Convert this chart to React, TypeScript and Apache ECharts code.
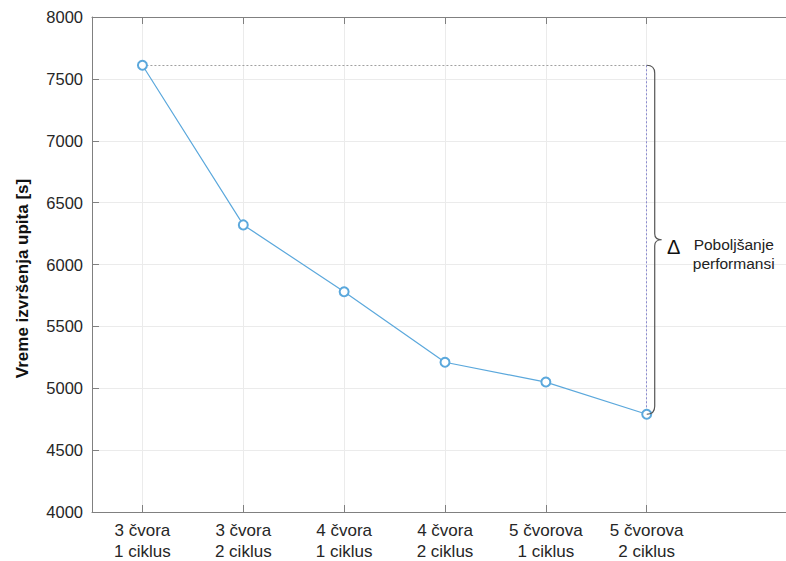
import React, { useEffect, useRef } from "react";
import * as echarts from "echarts";

const categoryLabels = [
  "3 čvora\n1 ciklus",
  "3 čvora\n2 ciklus",
  "4 čvora\n1 ciklus",
  "4 čvora\n2 ciklus",
  "5 čvorova\n1 ciklus",
  "5 čvorova\n2 ciklus",
];
const queryTimes = [7610, 6320, 5780, 5210, 5050, 4790];
const yTicks = { min: 4000, max: 8000, interval: 500 };
const yAxisTitle = "Vreme izvršenja upita [s]";
const deltaSymbol = "Δ";
const deltaLabel = "Poboljšanje\nperformansi";

// axis runs from 0.5 to 7.5 in half steps; categories sit on whole numbers
const SLOT_COUNT = 15;
const slotOf = (k: number) => 2 * k + 1;

const FONT = "'Liberation Sans', Arial, Helvetica, sans-serif";
const AXIS_COLOR = "#808080";

export default function App() {
  const ref = useRef<HTMLDivElement>(null);

  useEffect(() => {
    document.body.style.margin = "0";
    if (!ref.current) return;
    const chart = echarts.init(ref.current, null, { renderer: "svg" });

    const slots: string[] = Array(SLOT_COUNT).fill("");
    categoryLabels.forEach((l, k) => (slots[slotOf(k)] = l));
    const seriesData: (number | null)[] = Array(SLOT_COUNT).fill(null);
    queryTimes.forEach((v, k) => (seriesData[slotOf(k)] = v));

    const isCat = (i: number) => i % 2 === 1 && i <= slotOf(categoryLabels.length - 1);

    const firstSlot = slotOf(0);
    const lastSlot = slotOf(queryTimes.length - 1);
    const topVal = queryTimes[0];
    const botVal = queryTimes[queryTimes.length - 1];

    chart.setOption({
      animation: false,
      textStyle: { fontFamily: FONT },
      grid: {
        left: 92,
        right: 2,
        top: 17,
        bottom: 49,
        containLabel: false,
        outerBoundsMode: "none",
        show: false,
      },
      xAxis: [
        {
          type: "category",
          data: slots,
          boundaryGap: false,
          axisLine: { lineStyle: { color: AXIS_COLOR, width: 1 } },
          axisTick: {
            inside: true,
            length: 7,
            interval: (i: number) => isCat(i),
            lineStyle: { color: AXIS_COLOR },
          },
          axisLabel: {
            interval: (i: number) => isCat(i),
            color: "#262626",
            fontSize: 17,
            lineHeight: 21,
            margin: 8,
            fontFamily: FONT,
          },
          splitLine: {
            show: true,
            interval: (i: number) => isCat(i),
            lineStyle: { color: "#ebebeb", width: 1 },
          },
        },
        {
          type: "category",
          data: slots,
          position: "top",
          boundaryGap: false,
          axisLine: { show: true, lineStyle: { color: AXIS_COLOR, width: 1 } },
          axisTick: {
            show: true,
            inside: true,
            length: 7,
            interval: (i: number) => isCat(i),
            lineStyle: { color: AXIS_COLOR },
          },
          axisLabel: { show: false },
          splitLine: { show: false },
        },
      ],
      yAxis: {
        type: "value",
        min: yTicks.min,
        max: yTicks.max,
        interval: yTicks.interval,
        name: yAxisTitle,
        nameLocation: "middle",
        nameGap: 61,
        nameTextStyle: {
          fontSize: 17,
          fontWeight: "bold",
          color: "#111",
          fontFamily: FONT,
          padding: [0, 28, 0, 0],
        },
        axisLine: { show: true, lineStyle: { color: AXIS_COLOR, width: 1 } },
        axisTick: { show: true, inside: true, length: 7, lineStyle: { color: AXIS_COLOR } },
        axisLabel: {
          color: "#262626",
          fontSize: 16.5,
          margin: 9,
          fontFamily: FONT,
          formatter: (v: number) => String(v),
        },
        splitLine: { show: true, lineStyle: { color: "#ebebeb", width: 1 } },
      },
      series: [
        {
          type: "line",
          data: seriesData,
          connectNulls: true,
          symbol: "emptyCircle",
          symbolSize: 9,
          showSymbol: true,
          lineStyle: { color: "#5ba8dc", width: 1.2 },
          itemStyle: { color: "#5ba8dc", borderWidth: 1.2 },
          z: 5,
          markLine: {
            silent: true,
            symbol: ["none", "none"],
            label: { show: false },
            data: [
              [
                { coord: [firstSlot, topVal], lineStyle: { color: "#a0a0a0", type: [2, 2], width: 1 } },
                { coord: [lastSlot, topVal] },
              ],
              [
                { coord: [lastSlot, topVal], lineStyle: { color: "#8a8ad0", type: [2, 2], width: 1 } },
                { coord: [lastSlot, botVal] },
              ],
            ],
          },
        },
        {
          type: "custom",
          data: [[lastSlot, topVal, botVal]],
          encode: { x: 0, y: [1, 2] },
          z: 6,
          silent: true,
          renderItem: (params: any, api: any) => {
            const t = api.coord([api.value(0), api.value(1)]);
            const b = api.coord([api.value(0), api.value(2)]);
            const x0 = t[0];
            const yT = t[1];
            const yB = b[1];
            const ym = (yT + yB) / 2;
            const xb = x0 + 8;
            const d =
              `M ${x0} ${yT} Q ${xb} ${yT} ${xb} ${yT + 8} ` +
              `L ${xb} ${ym - 6} Q ${xb} ${ym} ${x0 + 15} ${ym} ` +
              `Q ${xb} ${ym} ${xb} ${ym + 6} ` +
              `L ${xb} ${yB - 8} Q ${xb} ${yB} ${x0} ${yB}`;
            return {
              type: "group",
              children: [
                {
                  type: "path",
                  shape: { pathData: d },
                  style: { stroke: "#555555", fill: "none", lineWidth: 1.2 },
                },
                {
                  type: "text",
                  x: x0 + 27,
                  y: ym + 7,
                  style: {
                    text: deltaSymbol,
                    fontSize: 20,
                    fontFamily: FONT,
                    fill: "#111",
                    align: "center",
                    verticalAlign: "middle",
                  },
                },
                {
                  type: "text",
                  x: x0 + 87,
                  y: ym + 14,
                  style: {
                    text: deltaLabel,
                    fontSize: 15.5,
                    lineHeight: 19,
                    fontFamily: FONT,
                    fill: "#222",
                    align: "center",
                    verticalAlign: "middle",
                  },
                },
              ],
            };
          },
        },
      ],
    });

    return () => chart.dispose();
  }, []);

  return (
    <div style={{ width: 786, height: 561, overflow: "hidden", position: "relative" }}>
      <div ref={ref} style={{ width: 800, height: 561 }} />
    </div>
  );
}
